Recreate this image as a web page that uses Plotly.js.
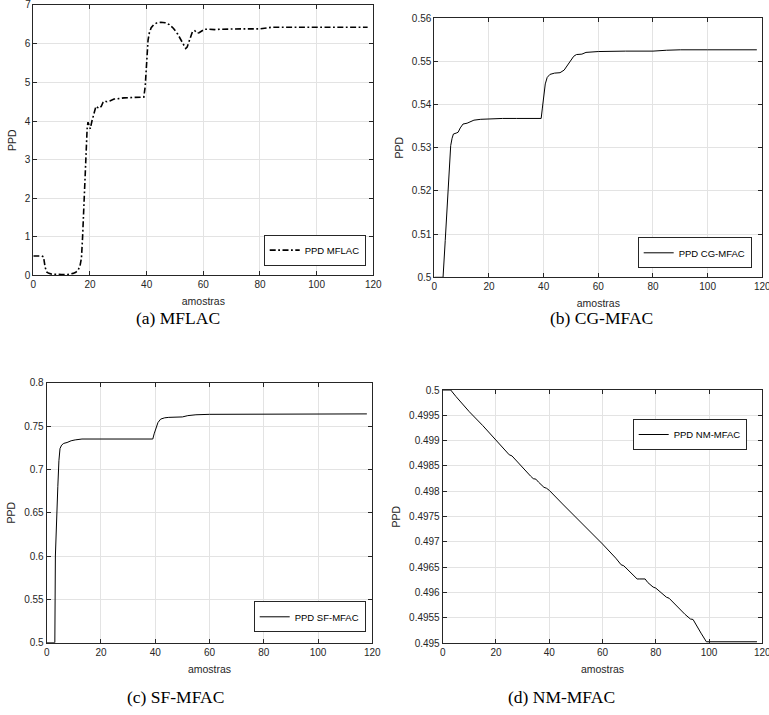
<!DOCTYPE html>
<html>
<head>
<meta charset="utf-8">
<script src="https://cdn.plot.ly/plotly-3.0.1.min.js"></script>
<style>
  html, body { margin: 0; padding: 0; background: #fff; }
  #page { position: relative; width: 769px; height: 715px; }
  .panel { position: absolute; left: 0; top: 0; width: 769px; height: 715px; }
  .edge-label { position: absolute; z-index: 10; white-space: nowrap; line-height: 1;
    font-family: 'Liberation Sans', Arial, sans-serif; font-size: 10px; color: #262626; }
</style>
</head>
<body>
<div id="page">
  <div id="panelA" class="panel"></div>
  <div id="panelB" class="panel"></div>
  <div id="panelC" class="panel"></div>
  <div id="panelD" class="panel"></div>
</div>
<script>
// ---- PPD responses of the four controllers ----
const amostrasA = [0, 1, 2, 3, 3.6, 4.2, 4.8, 5.5, 6.5, 8, 10, 12, 13, 14, 15, 15.8, 16.5, 17, 17.4, 17.8,
  18.2, 18.6, 19.0, 19.3, 19.7, 20.1, 20.7, 21.4, 22.1, 22.7, 23.3, 24, 24.6, 25.2, 26, 27, 28.5, 30, 32, 35,
  37, 39, 39.5, 40, 40.5, 41, 41.6, 42.5, 43.5, 45, 46.5, 48, 49.5, 51, 52.2, 53.2, 53.8, 54.3, 55, 55.6,
  56.2, 57, 57.8, 58.5, 59.5, 60.5, 62, 64, 66, 70, 75, 80, 81, 82, 84, 90, 100, 110, 118];
const ppdMFLAC = [0.5, 0.5, 0.5, 0.5, 0.48, 0.2, 0.08, 0.05, 0.03, 0.02, 0.02, 0.02, 0.03, 0.05, 0.08, 0.13, 0.25, 0.45, 1.0, 1.8,
  2.6, 3.3, 3.8, 3.97, 3.9, 3.8, 4.0, 4.22, 4.38, 4.35, 4.33, 4.38, 4.48, 4.52, 4.5, 4.52, 4.57, 4.58, 4.6, 4.61,
  4.62, 4.62, 4.9, 5.6, 6.1, 6.3, 6.42, 6.5, 6.54, 6.56, 6.55, 6.5, 6.4, 6.25, 6.08, 5.93, 5.88, 5.92, 6.05, 6.2,
  6.32, 6.34, 6.28, 6.29, 6.34, 6.38, 6.38, 6.37, 6.38, 6.39, 6.39, 6.39, 6.4, 6.42, 6.43, 6.43, 6.43, 6.43, 6.43];

const amostrasB = [0, 1, 2, 3.2, 4, 5, 6, 6.5, 7, 8, 8.7, 9.5, 10.5, 12, 13, 14.5, 17, 20, 25, 30, 35, 39.1,
  39.5, 40, 40.6, 41.3, 42.3, 44, 46, 47.5, 48.7, 50, 51, 52, 54, 55.5, 57, 60, 70, 80, 85, 90, 100, 118];
const ppdCG = [0.5, 0.5, 0.5, 0.5, 0.5085, 0.52, 0.5305, 0.5322, 0.5332, 0.5334, 0.5336, 0.5346, 0.5355, 0.5357, 0.536, 0.5364, 0.5366, 0.5367, 0.5368, 0.5368, 0.5368, 0.5368,
  0.539, 0.5425, 0.5448, 0.5463, 0.547, 0.5473, 0.5474, 0.548, 0.549, 0.5503, 0.5512, 0.5516, 0.5517, 0.5521, 0.5522, 0.5523, 0.5524, 0.5524, 0.5526, 0.5527, 0.5527, 0.5527];

const amostrasC = [0, 1, 2, 3.0, 3.2, 3.6, 4.1, 4.5, 4.9, 5.5, 6.3, 7.5, 9, 10.5, 13, 20, 30, 39.1,
  39.6, 40.2, 41, 42, 43.5, 45, 48, 50, 52, 55, 60, 80, 100, 118];
const ppdSF = [0.5, 0.5, 0.5, 0.5, 0.6, 0.65, 0.68, 0.71, 0.724, 0.728, 0.73, 0.731, 0.733, 0.734, 0.735, 0.735, 0.735, 0.735,
  0.741, 0.748, 0.754, 0.758, 0.7595, 0.76, 0.76, 0.7605, 0.762, 0.763, 0.7635, 0.7635, 0.764, 0.764];

const amostrasD = [0, 1, 2, 3, 5, 10, 15, 20, 24, 25, 26, 27, 30, 33, 34, 35, 36, 38, 39, 40, 45, 50, 55, 60,
  65, 67, 68, 70, 73, 74, 76, 77, 79, 80, 82, 84, 85, 88, 91, 93, 94, 97, 99, 100, 110, 118];
const ppdNM = [0.5, 0.5, 0.5, 0.5, 0.49987, 0.49957, 0.4993, 0.49902, 0.49878, 0.49872, 0.4987, 0.49864, 0.49846, 0.4983, 0.49825, 0.49824, 0.49818, 0.49808, 0.49806, 0.49802, 0.49775, 0.49749, 0.49722, 0.49696,
  0.49668, 0.49655, 0.49653, 0.49642, 0.49627, 0.49627, 0.49627, 0.4962, 0.49611, 0.49609, 0.49599, 0.49591, 0.49589, 0.49572, 0.49557, 0.49548, 0.49547, 0.4952, 0.49503, 0.49503, 0.49503, 0.49503];

// ---- tick values and labels ----
const xTicks = [0, 20, 40, 60, 80, 100, 120];
const yTicksA = [0, 1, 2, 3, 4, 5, 6, 7];
const yTicksB = [0.5, 0.51, 0.52, 0.53, 0.54, 0.55, 0.56];
const yTicksC = [0.5, 0.55, 0.6, 0.65, 0.7, 0.75, 0.8];
const yTicksD = [0.495, 0.4955, 0.496, 0.4965, 0.497, 0.4975, 0.498, 0.4985, 0.499, 0.4995, 0.5];
const yLabelsA = ['0', '1', '2', '3', '4', '5', '6', '7'];
const yLabelsB = ['0.5', '0.51', '0.52', '0.53', '0.54', '0.55', '0.56'];
const yLabelsC = ['0.5', '0.55', '0.6', '0.65', '0.7', '0.75', '0.8'];
const yLabelsD = ['0.495', '0.4955', '0.496', '0.4965', '0.497', '0.4975', '0.498', '0.4985', '0.499', '0.4995', '0.5'];

const legendNames = ['PPD MFLAC', 'PPD CG-MFAC', 'PPD SF-MFAC', 'PPD NM-MFAC'];
const captions = ['(a) MFLAC', '(b) CG-MFAC', '(c) SF-MFAC', '(d) NM-MFAC'];

// ---- page geometry (pixels) ----
const W = 769, H = 715;
const px = v => v / W;
const py = v => 1 - v / H;

const ink = '#262626';
const sans = 'Liberation Sans, Arial, sans-serif';
const tickFont = { family: sans, size: 10, color: ink };
const titleFont = { family: sans, size: 10.5, color: ink };

// one full-page layer per panel, stacked on top of each other
const panels = [
  { id: 'panelA', box: [33.3, 5.3, 373.3, 275.3], x: amostrasA, y: ppdMFLAC, yRange: [0, 7], yVals: yTicksA, yText: yLabelsA,
    line: { color: '#000', width: 1.6, dash: '6px,2.5px,1.8px,2.5px' },
    legend: [365.7, 265.6, 'bottom'], caption: [178, 318], pinTop: true },
  { id: 'panelB', box: [434.3, 18.3, 762.3, 277.3], x: amostrasB, y: ppdCG, yRange: [0.5, 0.56], yVals: yTicksB, yText: yLabelsB,
    line: { color: '#000', width: 1 },
    legend: [751.7, 268.3, 'bottom'], caption: [601, 318] },
  { id: 'panelC', box: [46.7, 382.7, 372.3, 642.7], x: amostrasC, y: ppdSF, yRange: [0.5, 0.8], yVals: yTicksC, yText: yLabelsC,
    line: { color: '#000', width: 1 },
    legend: [365.7, 632.3, 'bottom'], caption: [175, 697] },
  { id: 'panelD', box: [442.7, 390, 762.3, 643.3], x: amostrasD, y: ppdNM, yRange: [0.495, 0.5], yVals: yTicksD, yText: yLabelsD,
    line: { color: '#000', width: 1 },
    legend: [746.7, 419, 'top'], caption: [561, 697] }
];

// the top tick label of the first panel sits right on the page edge;
// place it as a page-level label at the axis' own pixel position
function pinTopLabel(p) {
  const page = document.getElementById('page');
  const el = document.getElementById(p.id);
  const ya = el._fullLayout.yaxis;
  const xa = el._fullLayout.xaxis;
  const topVal = p.yVals[p.yVals.length - 1];
  const topText = p.yText[p.yText.length - 1];
  const yPix = ya._offset + ya.l2p(topVal);
  const pageBox = page.getBoundingClientRect();
  let right = xa._offset - 3;
  const below = Array.from(el.querySelectorAll('g.ytick text'))
    .find(t => t.textContent === p.yText[p.yText.length - 2]);
  if (below) {
    const r = below.getBoundingClientRect();
    if (r.width > 0) right = r.right - pageBox.left;
  }
  el.querySelectorAll('g.ytick text').forEach(t => {
    if (t.textContent === topText) t.style.display = 'none';
  });
  const lab = document.createElement('div');
  lab.className = 'edge-label';
  lab.textContent = topText;
  lab.style.right = (W - right) + 'px';
  lab.style.top = (yPix - 5.5) + 'px';
  page.appendChild(lab);
}

const drawn = panels.map((p, i) => {
  const b = p.box;
  const common = {
    ticks: 'inside', ticklen: 4, tickwidth: 1, tickcolor: ink,
    showline: true, linecolor: ink, linewidth: 1, mirror: 'ticks',
    showgrid: true, gridcolor: '#e3e3e3', gridwidth: 1, zeroline: false,
    tickfont: tickFont, automargin: false, ticklabeloverflow: 'allow'
  };
  const layout = {
    width: W, height: H,
    margin: { l: 0, r: 0, t: 0, b: 0 },
    paper_bgcolor: 'rgba(0,0,0,0)', plot_bgcolor: '#fff',
    showlegend: true,
    xaxis: Object.assign({
      domain: [px(b[0]), px(b[2])], range: [0, 120],
      tickmode: 'array', tickvals: xTicks, ticktext: xTicks.map(String),
      title: { text: 'amostras', font: titleFont, standoff: 8 }
    }, common),
    yaxis: Object.assign({
      domain: [py(b[3]), py(b[1])], range: p.yRange,
      tickmode: 'array', tickvals: p.yVals, ticktext: p.yText,
      title: { text: 'PPD', font: titleFont, standoff: 6 }
    }, common),
    legend: {
      x: px(p.legend[0]), y: py(p.legend[1]), xanchor: 'right', yanchor: p.legend[2],
      bgcolor: '#fff', bordercolor: ink, borderwidth: 1,
      font: { family: sans, size: 9.5, color: '#000' }, itemwidth: 30
    },
    annotations: [{
      text: captions[i], xref: 'paper', yref: 'paper',
      x: px(p.caption[0]), y: py(p.caption[1]),
      xanchor: 'center', yanchor: 'middle', showarrow: false,
      font: { family: 'Liberation Serif, Times New Roman, serif', size: 17.5, color: '#000' }
    }]
  };
  const trace = { x: p.x, y: p.y, mode: 'lines', name: legendNames[i], line: p.line };
  return Plotly.newPlot(p.id, [trace], layout, { staticPlot: true, displayModeBar: false });
});

Promise.all(drawn).then(() => panels.filter(p => p.pinTop).forEach(pinTopLabel));
</script>
</body>
</html>
